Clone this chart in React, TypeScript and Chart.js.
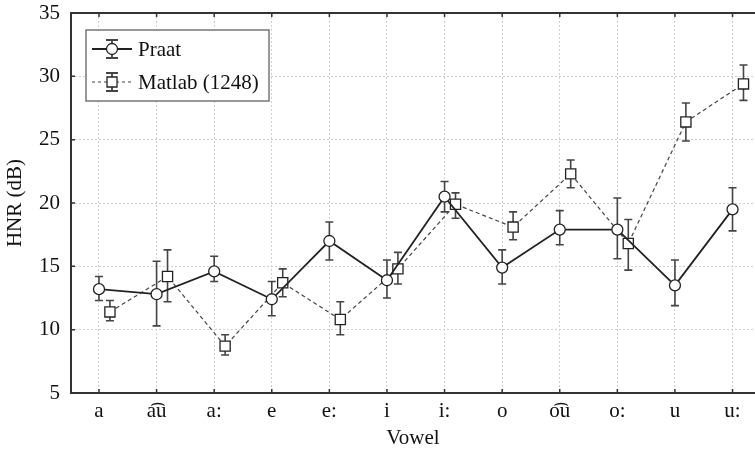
import React, { useEffect, useRef } from "react";
import { Chart, registerables } from "chart.js";

Chart.register(...registerables);

const vowels = ["a", "a\u0361u", "a:", "e", "e:", "i", "i:", "o", "o\u0361u", "o:", "u", "u:"];

const praatMean = [13.2, 12.8, 14.6, 12.4, 17.0, 13.9, 20.5, 14.9, 17.9, 17.9, 13.5, 19.5];
const praatLow = [12.3, 10.3, 13.8, 11.1, 15.5, 12.5, 19.3, 13.6, 16.7, 15.6, 11.9, 17.8];
const praatHigh = [14.2, 15.4, 15.8, 13.8, 18.5, 15.5, 21.7, 16.3, 19.4, 20.4, 15.5, 21.2];

const matlabMean = [11.4, 14.2, 8.7, 13.7, 10.8, 14.8, 19.9, 18.1, 22.3, 16.8, 26.4, 29.4];
const matlabLow = [10.7, 12.2, 8.0, 12.6, 9.6, 13.6, 18.8, 17.1, 21.2, 14.7, 24.9, 28.1];
const matlabHigh = [12.3, 16.3, 9.6, 14.8, 12.2, 16.1, 20.8, 19.3, 23.4, 18.7, 27.9, 30.9];

const yTicks = [5, 10, 15, 20, 25, 30, 35];

const FONT = "'Liberation Serif', 'Times New Roman', serif";
const MATLAB_SHIFT = 0.19;

export default function App() {
  const ref = useRef<HTMLCanvasElement | null>(null);

  useEffect(() => {
    const canvas = ref.current;
    if (!canvas) return;

    const errorBars = {
      id: "errorBars",
      beforeDatasetsDraw(chart: any) {
        const { ctx, scales } = chart;
        const xs = scales.x;
        const ys = scales.y;
        ctx.save();
        ctx.strokeStyle = "#444";
        ctx.lineWidth = 1.6;
        chart.data.datasets.forEach((ds: any) => {
          ds.data.forEach((p: any) => {
            const x = xs.getPixelForValue(p.x);
            const y1 = ys.getPixelForValue(p.lo);
            const y2 = ys.getPixelForValue(p.hi);
            ctx.beginPath();
            ctx.moveTo(x, y1);
            ctx.lineTo(x, y2);
            ctx.moveTo(x - 4, y1);
            ctx.lineTo(x + 4, y1);
            ctx.moveTo(x - 4, y2);
            ctx.lineTo(x + 4, y2);
            ctx.stroke();
          });
        });
        ctx.restore();
      },
    };

    const frame = {
      id: "frame",
      beforeDatasetsDraw(chart: any) {
        const { ctx, chartArea: a, scales } = chart;
        ctx.save();
        ctx.strokeStyle = "#333";
        ctx.lineWidth = 2;
        ctx.beginPath();
        ctx.moveTo(a.right + 2, a.top);
        ctx.lineTo(a.left, a.top);
        ctx.lineTo(a.left, a.bottom);
        ctx.lineTo(a.right + 2, a.bottom);
        ctx.stroke();
        ctx.lineWidth = 1.5;
        ctx.beginPath();
        scales.x.ticks.forEach((t: any) => {
          const x = scales.x.getPixelForValue(t.value);
          ctx.moveTo(x, a.top);
          ctx.lineTo(x, a.top + 4);
          ctx.moveTo(x, a.bottom);
          ctx.lineTo(x, a.bottom - 4);
        });
        scales.y.ticks.forEach((t: any) => {
          const y = scales.y.getPixelForValue(t.value);
          ctx.moveTo(a.left, y);
          ctx.lineTo(a.left + 4, y);
        });
        ctx.stroke();
        ctx.restore();
      },
    };

    const legendBox = {
      id: "legendBox",
      afterDraw(chart: any) {
        const { ctx } = chart;
        ctx.save();
        ctx.fillStyle = "#fff";
        ctx.fillRect(86, 30, 183, 71);
        ctx.strokeStyle = "#777";
        ctx.lineWidth = 1.5;
        ctx.strokeRect(86, 30, 183, 71);
        const rows = [
          { y: 49, label: "Praat", dash: [] as number[], lw: 1.8, color: "#222", shape: "circle" },
          { y: 82, label: "Matlab (1248)", dash: [3, 3], lw: 1.2, color: "#444", shape: "rect" },
        ];
        rows.forEach((r) => {
          ctx.strokeStyle = r.color;
          ctx.lineWidth = r.lw;
          ctx.setLineDash(r.dash);
          ctx.beginPath();
          ctx.moveTo(92, r.y);
          ctx.lineTo(132, r.y);
          ctx.stroke();
          ctx.setLineDash([]);
          ctx.strokeStyle = "#444";
          ctx.lineWidth = 1.8;
          ctx.beginPath();
          ctx.moveTo(112, r.y - 9);
          ctx.lineTo(112, r.y + 9);
          ctx.moveTo(106, r.y - 9);
          ctx.lineTo(118, r.y - 9);
          ctx.moveTo(106, r.y + 9);
          ctx.lineTo(118, r.y + 9);
          ctx.stroke();
          ctx.fillStyle = "#fff";
          ctx.strokeStyle = "#222";
          ctx.lineWidth = 1.3;
          ctx.beginPath();
          if (r.shape === "circle") {
            ctx.arc(112, r.y, 5.5, 0, Math.PI * 2);
          } else {
            ctx.rect(107, r.y - 5, 10, 10);
          }
          ctx.fill();
          ctx.stroke();
          ctx.fillStyle = "#111";
          ctx.font = `21px ${FONT}`;
          ctx.textBaseline = "middle";
          ctx.textAlign = "left";
          ctx.fillText(r.label, 138, r.y + 1);
        });
        ctx.restore();
      },
    };

    const praatData = praatMean.map((v, i) => ({ x: i, y: v, lo: praatLow[i], hi: praatHigh[i] }));
    const matlabData = matlabMean.map((v, i) => ({
      x: i + MATLAB_SHIFT,
      y: v,
      lo: matlabLow[i],
      hi: matlabHigh[i],
    }));

    const gridStyle = {
      color: "#d0d0d0",
      lineWidth: 1,
      drawTicks: false,
    };

    const chart = new Chart(canvas, {
      type: "scatter",
      data: {
        datasets: [
          {
            label: "Praat",
            data: praatData,
            showLine: true,
            borderColor: "#222",
            borderWidth: 1.8,
            pointStyle: "circle",
            pointRadius: 5.5,
            pointBackgroundColor: "#fff",
            pointBorderColor: "#222",
            pointBorderWidth: 1.3,
          },
          {
            label: "Matlab (1248)",
            data: matlabData,
            showLine: true,
            borderColor: "#444",
            borderWidth: 1.2,
            borderDash: [4, 3],
            pointStyle: "rect",
            pointRadius: 7.2,
            pointBackgroundColor: "#fff",
            pointBorderColor: "#222",
            pointBorderWidth: 1.3,
          },
        ],
      },
      options: {
        responsive: false,
        animation: false,
        devicePixelRatio: 1,
        layout: { autoPadding: false, padding: { top: 13, right: 0, left: 0, bottom: 0 } },
        plugins: {
          legend: { display: false },
          tooltip: { enabled: false },
        },
        scales: {
          x: {
            type: "linear",
            min: -0.486,
            max: 11.39,
            afterBuildTicks(scale: any) {
              scale.ticks = vowels.map((_, i) => ({ value: i }));
            },
            afterFit(scale: any) {
              scale.height = 58;
              scale.paddingLeft = 0;
              scale.paddingRight = 0;
            },
            grid: { ...gridStyle } as any,
            border: { display: false, dash: [2, 2] },
            ticks: {
              color: "#111",
              font: { family: FONT, size: 21 },
              padding: 6,
              autoSkip: false,
              maxRotation: 0,
              callback: (v: any) => vowels[Math.round(Number(v))] ?? "",
            },
            title: {
              display: true,
              text: "Vowel",
              color: "#111",
              font: { family: FONT, size: 21 },
              padding: { top: 0, bottom: 0 },
            },
          },
          y: {
            type: "linear",
            min: 5,
            max: 35,
            afterBuildTicks(scale: any) {
              scale.ticks = yTicks.map((v) => ({ value: v }));
            },
            afterFit(scale: any) {
              scale.width = 71;
              scale.paddingTop = 0;
              scale.paddingBottom = 0;
            },
            grid: { ...gridStyle } as any,
            border: { display: false, dash: [2, 2] },
            ticks: {
              color: "#111",
              font: { family: FONT, size: 21 },
              padding: 11,
            },
            title: {
              display: true,
              text: "HNR (dB)",
              color: "#111",
              font: { family: FONT, size: 21 },
              padding: { top: 3, bottom: 0 },
            },
          },
        },
      },
      plugins: [errorBars, frame, legendBox],
    } as any);

    return () => chart.destroy();
  }, []);

  return (
    <div style={{ position: "absolute", left: 0, top: 0, width: 755, height: 451, background: "#fff" }}>
      <canvas ref={ref} width={755} height={451} style={{ display: "block", width: 755, height: 451 }} />
    </div>
  );
}
